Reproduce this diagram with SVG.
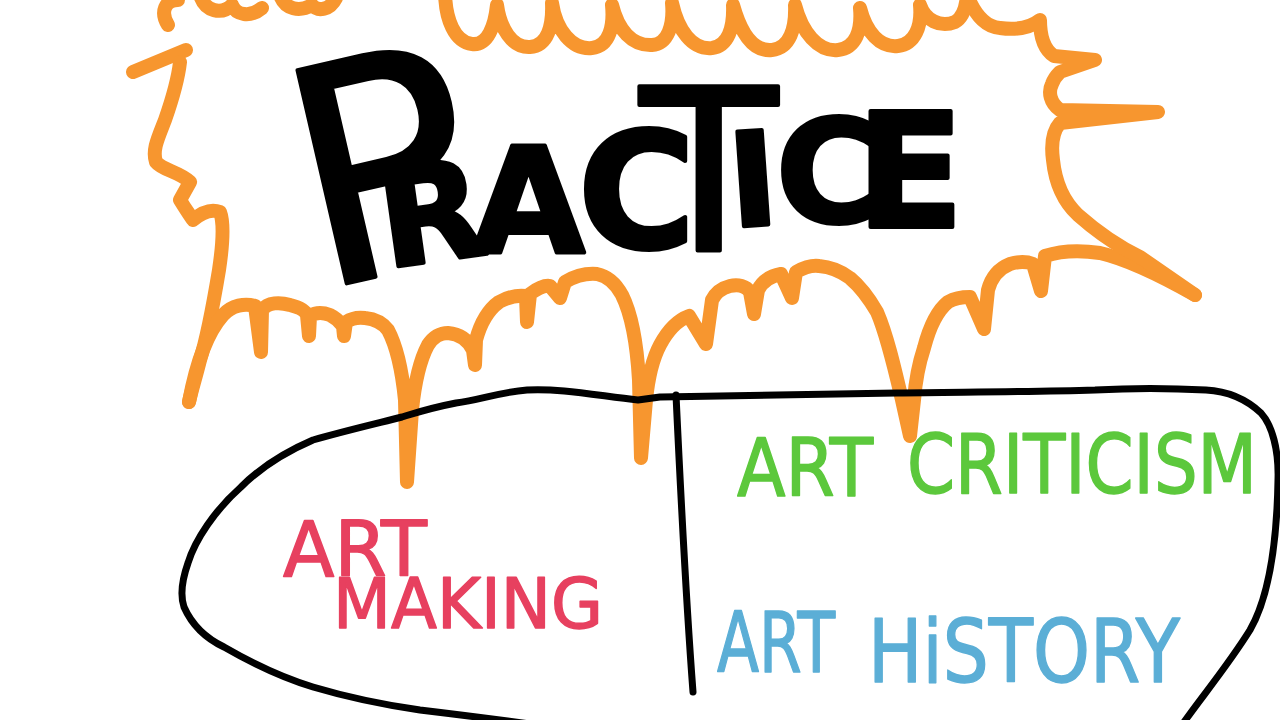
<svg xmlns="http://www.w3.org/2000/svg" width="1280" height="720" viewBox="0 0 1280 720">
<style>
.or{fill:none;stroke:#F7962F;stroke-width:14;stroke-linecap:round;stroke-linejoin:round}
.bk{fill:none;stroke:#000;stroke-width:7;stroke-linecap:round;stroke-linejoin:round}
.hand{font-family:"DejaVu Sans","Liberation Sans",sans-serif;stroke-linejoin:round;stroke-linecap:round}
.pr{fill:#000;stroke:#000;stroke-width:4}
.pink{fill:#E7405F;stroke:#E7405F;stroke-width:1.5}
.green{fill:#5CC83C;stroke:#5CC83C;stroke-width:1.5}
.blue{fill:#5BAED6;stroke:#5BAED6;stroke-width:1.5}
</style>
<rect width="1280" height="720" fill="#fff"/>
<g id="burst">
<path class="or" d="M168,25 C160,12 165,0 178,0 M200,-5 C205,12 222,15 232,5 C236,15 250,18 262,8 M280,-5 C285,10 300,12 312,5 C318,12 330,10 336,-2"/>
<path class="or" d="M186,50 L133,72"/>
<path class="or" d="M180,62 C178,80 172,100 165,120 C158,138 152,150 156,162 C162,170 180,172 190,182 L180,200 C186,210 190,215 193,220 C200,214 210,208 220,212 C225,225 222,250 219,270 C214,300 208,335 200,360 C195,380 191,392 189,402"/>
<path class="or" d="M189,402 C195,370 205,335 223,315 C232,305 245,303 255,306 L261,352 L262,310 C268,302 280,302 290,305 C298,307 305,310 307,315 L309,336 L310,316 C316,312 322,312 330,315 C336,318 340,322 343,326 L344,336 L346,322 C352,318 358,317 365,318 C375,319 382,322 388,330 C396,345 402,370 405,400 L407,482 L412,410 C415,380 420,360 428,345 C434,336 440,333 448,333 C460,334 468,340 473,350 L475,365 L476,340 C480,325 488,310 499,302 C508,297 518,295 526,296 L527,322 L530,294 C538,288 545,285 550,286 L560,298 L565,282 C575,276 585,273 597,274 C607,276 615,282 622,295 C632,315 637,345 639,380 L641,458 L646,400 C648,380 652,360 660,345 C668,330 678,320 689,316 L706,344 L712,300 C716,292 722,288 730,286 C738,284 746,286 750,292 L754,314 L758,290 C762,282 770,276 781,274 L792,298 L796,272 C805,267 812,265 819,266 C832,267 842,272 850,278 C862,288 870,300 877,312 C887,335 895,370 902,400 L910,436 L914,400 C916,375 920,360 924,348 C930,325 938,310 948,302 C955,298 962,297 970,297 L984,329 L988,290 C992,275 1000,268 1010,264 C1020,261 1028,262 1033,264 L1041,291 L1045,256 C1060,251 1080,250 1100,253 C1130,260 1165,278 1195,295"/>
<path class="or" d="M1195,295 L1140,257 C1115,245 1095,230 1078,215 C1062,200 1055,180 1053,160 C1051,145 1052,132 1060,123 L1158,112 L1060,110 C1050,103 1048,92 1052,84 C1054,78 1057,75 1060,72 L1095,60 L1054,56 C1045,50 1040,40 1040,20 C1030,28 1015,30 1000,28 C985,27 975,15 967,-5"/>
<path class="or" d="M445,-10 C445,20 455,42 472,44 C488,46 495,25 497,5 C500,28 512,48 530,47 C548,46 553,25 552,3 C556,30 572,50 592,48 C610,46 614,25 612,5 C618,30 632,46 652,45 C668,44 674,25 672,3 C678,30 692,50 712,48 C728,46 734,28 733,5 C740,30 752,52 772,50 C790,48 796,28 795,5 C802,32 818,52 838,50 C856,48 862,30 860,8 C866,32 880,48 898,46 C915,44 922,26 920,5 C925,20 940,28 955,22 C962,18 966,8 967,-5"/>
</g>
<g id="outline">
<path class="bk" d="M638,400 C600,396 560,388 527,390 C500,392 480,400 456,403 C430,408 415,413 402,417 C370,425 340,432 313,440 C285,452 260,468 241,487 C215,510 195,540 188,563 C182,580 180,595 184,607 C192,625 205,638 224,647 C250,662 280,677 313,687 C350,698 385,705 420,710 C470,716 500,720 530,724 C700,735 1000,735 1180,728 C1195,705 1225,670 1250,630 C1270,595 1277,540 1278,480 C1279,450 1272,425 1261,413 C1245,398 1225,391 1206,390 C1170,388 1130,388 1095,390 C1030,392 960,392 897,393 C820,394 740,396 660,397 L638,400"/>
<path class="bk" d="M676,395 C680,480 686,600 693,692"/>
</g>
<g id="title">
<text class="hand pr"><tspan x="318" y="290" font-size="300" font-weight="normal" rotate="-13">P</tspan><tspan x="386" y="268" font-size="136" font-weight="bold" rotate="-8">R</tspan><tspan x="472" y="252" font-size="146" font-weight="bold">A</tspan><tspan x="578" y="248" font-size="160" font-weight="bold">C</tspan><tspan x="640" y="250" font-size="225" font-weight="normal">T</tspan><tspan x="732" y="227" font-size="130" font-weight="bold" rotate="-4">I</tspan><tspan x="776" y="222" font-size="142" font-weight="bold">C</tspan><tspan x="856" y="227" font-size="158" font-weight="bold">E</tspan></text>
</g>
<g id="art-making">
<text class="hand pink"><tspan x="283" y="576" font-size="76" textLength="144" lengthAdjust="spacingAndGlyphs">ART</tspan><tspan x="333" y="628" font-size="70" textLength="270" lengthAdjust="spacingAndGlyphs">MAKING</tspan></text>
</g>
<g id="art-criticism">
<text class="hand green"><tspan x="737" y="496" font-size="80" textLength="136" lengthAdjust="spacingAndGlyphs">ART</tspan><tspan x="907" y="493" font-size="82" textLength="350" lengthAdjust="spacingAndGlyphs">CRITICISM</tspan></text>
</g>
<g id="art-history">
<text class="hand blue"><tspan x="717" y="672" font-size="84" textLength="118" lengthAdjust="spacingAndGlyphs">ART</tspan><tspan x="868" y="682" font-size="88" textLength="312" lengthAdjust="spacingAndGlyphs">HiSTORY</tspan></text>
</g>
</svg>
